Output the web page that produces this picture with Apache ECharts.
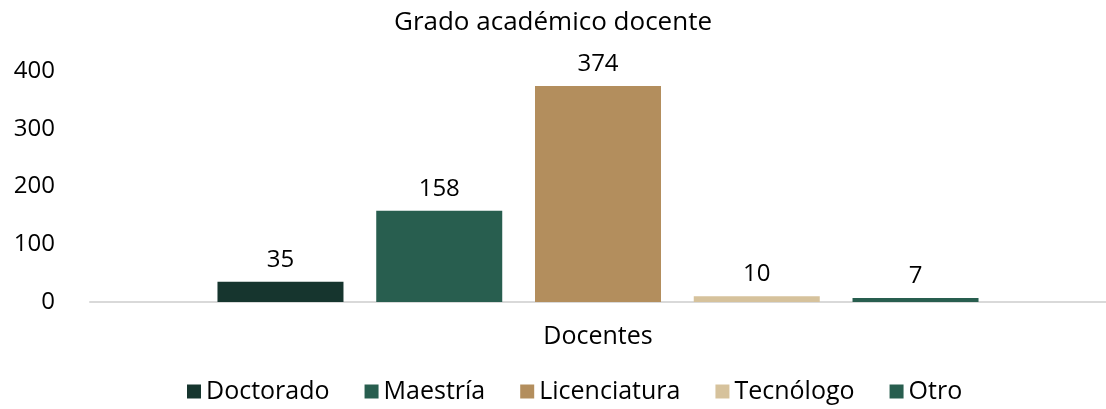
<!DOCTYPE html>
<html>
<head>
<meta charset="utf-8">
<script src="https://cdn.jsdelivr.net/npm/echarts@6/dist/echarts.min.js"></script>
<style>html,body{margin:0;padding:0;background:#fff}#c{width:1106px;height:409px}</style>
</head>
<body>
<div id="c"></div>
<script>
const categories = ['Docentes'];
const seriesNames = ['Doctorado', 'Maestría', 'Licenciatura', 'Tecnólogo', 'Otro'];
const seriesValues = [[35], [158], [374], [10], [7]];
const seriesColors = ['#16352e', '#285e4f', '#b38e5d', '#d6c29c', '#285e4f'];
const yTicks = [0, 100, 200, 300, 400];

const FONT = '"Open Sans", "Noto Sans", sans-serif';
const chart = echarts.init(document.getElementById('c'));
chart.setOption({
  animation: false,
  title: {
    text: 'Grado académico docente',
    left: 'center', top: 5,
    textStyle: { fontFamily: FONT, fontSize: 26, fontWeight: 500, color: '#000' }
  },
  legend: {
    top: 379, left: 187, padding: 0,
    itemWidth: 14, itemHeight: 14, itemGap: 35,
    icon: 'rect',
    textStyle: { fontFamily: FONT, fontSize: 25, color: '#000' },
    data: seriesNames
  },
  grid: { left: 90, right: 0, top: 71, bottom: 107, containLabel: false },
  xAxis: {
    type: 'category', data: categories,
    axisLine: { show: true, lineStyle: { color: '#d9d9d9', width: 2 } },
    axisTick: { show: false },
    axisLabel: { fontFamily: FONT, fontSize: 25, color: '#000', margin: 22 }
  },
  yAxis: {
    type: 'value', min: yTicks[0], max: yTicks[yTicks.length - 1], interval: 100,
    splitLine: { show: false },
    axisLine: { show: false }, axisTick: { show: false },
    axisLabel: { fontFamily: FONT, fontSize: 24, color: '#000', margin: 35 }
  },
  series: seriesNames.map((n, i) => ({
    name: n, type: 'bar', data: seriesValues[i],
    barWidth: 126, barGap: '26%',
    itemStyle: { color: seriesColors[i] },
    label: { show: true, position: 'top', distance: 10, fontFamily: FONT, fontSize: 24, color: '#000' }
  }))
});
</script>
</body>
</html>
